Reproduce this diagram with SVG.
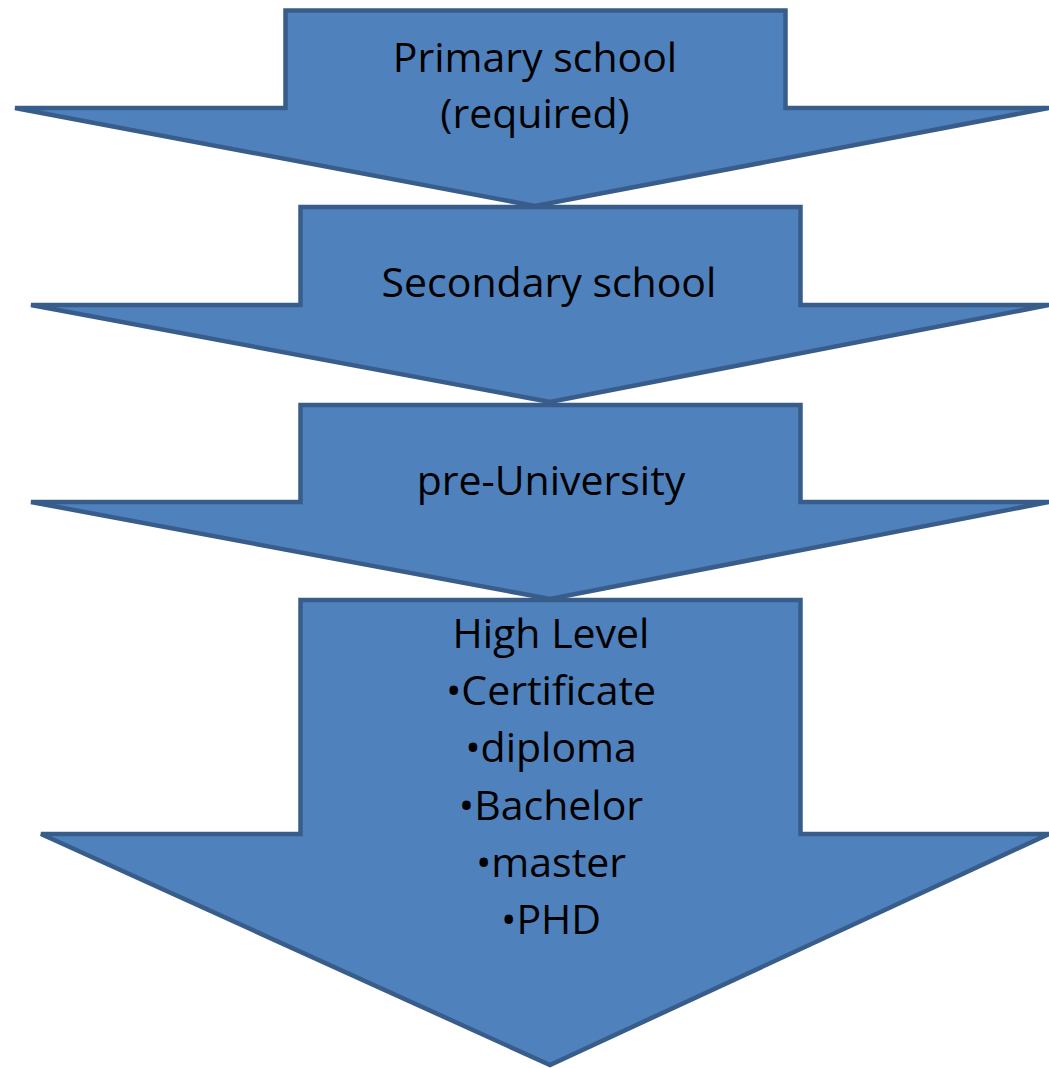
<svg xmlns="http://www.w3.org/2000/svg" width="1049" height="1068" viewBox="0 0 1049 1068">
<style>
.arrow{fill:#4f81bd;stroke:#385d8a;stroke-width:4.5;stroke-linejoin:miter}
.lbl{font-family:"Open Sans","Liberation Sans",sans-serif;font-size:41px;fill:#000;text-anchor:middle}
</style>
<rect width="1049" height="1068" fill="#fff"/>
<g id="primary">
<polygon class="arrow" points="285.5,10.5 785.5,10.5 785.5,108 1049,108 535,206 15,108 285.5,108"/>
<text class="lbl" x="535" y="72">Primary school</text>
<text class="lbl" x="535" y="128">(required)</text>
</g>
<g id="secondary">
<polygon class="arrow" points="300.5,207 800.5,207 800.5,305 1049,305 550,402 31,305 300.5,305"/>
<text class="lbl" x="549" y="297">Secondary school</text>
</g>
<g id="preuniversity">
<polygon class="arrow" points="300.5,405 800.5,405 800.5,502 1049,502 550,599 31,502 300.5,502"/>
<text class="lbl" x="551" y="495">pre-University</text>
</g>
<g id="highlevel">
<polygon class="arrow" points="300.5,600 800.5,600 800.5,834 1049,834 550,1065 41,834 300.5,834"/>
<text class="lbl" x="551" y="648">High Level</text>
<text class="lbl" x="551" y="705">•Certificate</text>
<text class="lbl" x="551" y="762">•diploma</text>
<text class="lbl" x="551" y="820">•Bachelor</text>
<text class="lbl" x="551" y="877">•master</text>
<text class="lbl" x="551" y="934">•PHD</text>
</g>
<g id="connectors"></g>
</svg>
